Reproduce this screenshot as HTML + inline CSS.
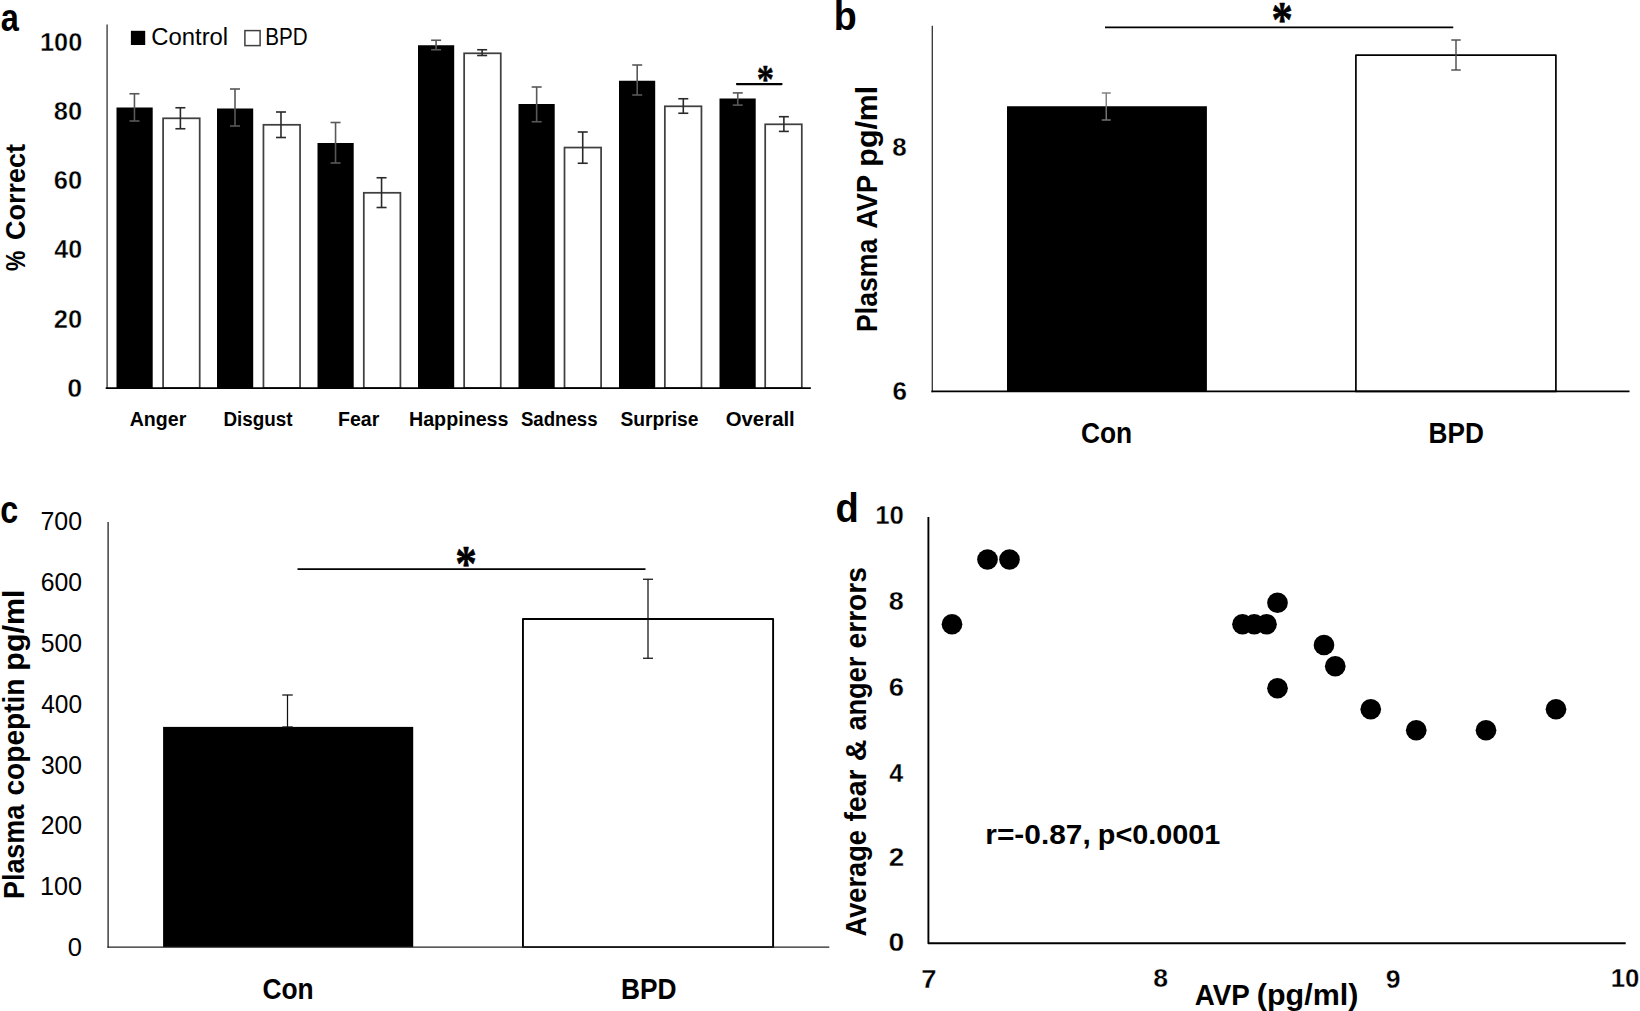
<!DOCTYPE html>
<html lang="en">
<head>
<meta charset="utf-8">
<title>Figure: emotion recognition, plasma AVP and copeptin in BPD vs control</title>
<style>
html,body{margin:0;padding:0;background:#fff;}
body{width:1640px;height:1011px;overflow:hidden;}
svg{display:block;font-family:"Liberation Sans", sans-serif;fill:#000;}
svg text{white-space:pre;}
</style>
</head>
<body>
<svg width="1640" height="1011" viewBox="0 0 1640 1011">
<rect x="0" y="0" width="1640" height="1011" fill="#fff"/>
<!-- panel a: % correct by emotion -->
<rect x="116.50" y="107.50" width="36.20" height="280.60" fill="#000"/>
<rect x="163.10" y="118.30" width="36.60" height="269.80" fill="#fff" stroke="#404040" stroke-width="1.75"/>
<rect x="217.00" y="108.50" width="36.20" height="279.60" fill="#000"/>
<rect x="263.45" y="124.80" width="36.60" height="263.30" fill="#fff" stroke="#404040" stroke-width="1.75"/>
<rect x="317.50" y="143.00" width="36.20" height="245.10" fill="#000"/>
<rect x="363.80" y="192.80" width="36.60" height="195.30" fill="#fff" stroke="#404040" stroke-width="1.75"/>
<rect x="418.00" y="45.25" width="36.20" height="342.85" fill="#000"/>
<rect x="464.15" y="53.30" width="36.60" height="334.80" fill="#fff" stroke="#404040" stroke-width="1.75"/>
<rect x="518.50" y="104.00" width="36.20" height="284.10" fill="#000"/>
<rect x="564.50" y="147.55" width="36.60" height="240.55" fill="#fff" stroke="#404040" stroke-width="1.75"/>
<rect x="619.00" y="80.75" width="36.20" height="307.35" fill="#000"/>
<rect x="664.85" y="106.30" width="36.60" height="281.80" fill="#fff" stroke="#404040" stroke-width="1.75"/>
<rect x="719.50" y="98.50" width="36.20" height="289.60" fill="#000"/>
<rect x="765.20" y="124.30" width="36.60" height="263.80" fill="#fff" stroke="#404040" stroke-width="1.75"/>
<line x1="134.45" y1="93.75" x2="134.45" y2="121.00" stroke="#585858" stroke-width="1.6"/>
<line x1="129.45" y1="93.75" x2="139.45" y2="93.75" stroke="#585858" stroke-width="1.6"/>
<line x1="129.45" y1="121.00" x2="139.45" y2="121.00" stroke="#585858" stroke-width="1.6"/>
<line x1="180.40" y1="107.75" x2="180.40" y2="128.75" stroke="#2a2a2a" stroke-width="1.6"/>
<line x1="175.40" y1="107.75" x2="185.40" y2="107.75" stroke="#2a2a2a" stroke-width="1.6"/>
<line x1="175.40" y1="128.75" x2="185.40" y2="128.75" stroke="#2a2a2a" stroke-width="1.6"/>
<line x1="235.00" y1="89.00" x2="235.00" y2="126.00" stroke="#585858" stroke-width="1.6"/>
<line x1="230.00" y1="89.00" x2="240.00" y2="89.00" stroke="#585858" stroke-width="1.6"/>
<line x1="230.00" y1="126.00" x2="240.00" y2="126.00" stroke="#585858" stroke-width="1.6"/>
<line x1="280.98" y1="112.00" x2="280.98" y2="137.50" stroke="#2a2a2a" stroke-width="1.6"/>
<line x1="275.98" y1="112.00" x2="285.98" y2="112.00" stroke="#2a2a2a" stroke-width="1.6"/>
<line x1="275.98" y1="137.50" x2="285.98" y2="137.50" stroke="#2a2a2a" stroke-width="1.6"/>
<line x1="335.55" y1="122.50" x2="335.55" y2="163.00" stroke="#585858" stroke-width="1.6"/>
<line x1="330.55" y1="122.50" x2="340.55" y2="122.50" stroke="#585858" stroke-width="1.6"/>
<line x1="330.55" y1="163.00" x2="340.55" y2="163.00" stroke="#585858" stroke-width="1.6"/>
<line x1="381.56" y1="177.75" x2="381.56" y2="207.50" stroke="#2a2a2a" stroke-width="1.6"/>
<line x1="376.56" y1="177.75" x2="386.56" y2="177.75" stroke="#2a2a2a" stroke-width="1.6"/>
<line x1="376.56" y1="207.50" x2="386.56" y2="207.50" stroke="#2a2a2a" stroke-width="1.6"/>
<line x1="436.10" y1="40.25" x2="436.10" y2="49.75" stroke="#585858" stroke-width="1.6"/>
<line x1="431.10" y1="40.25" x2="441.10" y2="40.25" stroke="#585858" stroke-width="1.6"/>
<line x1="431.10" y1="49.75" x2="441.10" y2="49.75" stroke="#585858" stroke-width="1.6"/>
<line x1="482.14" y1="49.75" x2="482.14" y2="55.50" stroke="#2a2a2a" stroke-width="1.6"/>
<line x1="477.14" y1="49.75" x2="487.14" y2="49.75" stroke="#2a2a2a" stroke-width="1.6"/>
<line x1="477.14" y1="55.50" x2="487.14" y2="55.50" stroke="#2a2a2a" stroke-width="1.6"/>
<line x1="536.65" y1="87.00" x2="536.65" y2="121.75" stroke="#585858" stroke-width="1.6"/>
<line x1="531.65" y1="87.00" x2="541.65" y2="87.00" stroke="#585858" stroke-width="1.6"/>
<line x1="531.65" y1="121.75" x2="541.65" y2="121.75" stroke="#585858" stroke-width="1.6"/>
<line x1="582.72" y1="132.00" x2="582.72" y2="163.25" stroke="#2a2a2a" stroke-width="1.6"/>
<line x1="577.72" y1="132.00" x2="587.72" y2="132.00" stroke="#2a2a2a" stroke-width="1.6"/>
<line x1="577.72" y1="163.25" x2="587.72" y2="163.25" stroke="#2a2a2a" stroke-width="1.6"/>
<line x1="637.20" y1="65.00" x2="637.20" y2="95.00" stroke="#585858" stroke-width="1.6"/>
<line x1="632.20" y1="65.00" x2="642.20" y2="65.00" stroke="#585858" stroke-width="1.6"/>
<line x1="632.20" y1="95.00" x2="642.20" y2="95.00" stroke="#585858" stroke-width="1.6"/>
<line x1="683.30" y1="98.75" x2="683.30" y2="113.25" stroke="#2a2a2a" stroke-width="1.6"/>
<line x1="678.30" y1="98.75" x2="688.30" y2="98.75" stroke="#2a2a2a" stroke-width="1.6"/>
<line x1="678.30" y1="113.25" x2="688.30" y2="113.25" stroke="#2a2a2a" stroke-width="1.6"/>
<line x1="737.75" y1="92.90" x2="737.75" y2="105.10" stroke="#585858" stroke-width="1.6"/>
<line x1="732.75" y1="92.90" x2="742.75" y2="92.90" stroke="#585858" stroke-width="1.6"/>
<line x1="732.75" y1="105.10" x2="742.75" y2="105.10" stroke="#585858" stroke-width="1.6"/>
<line x1="783.88" y1="116.70" x2="783.88" y2="131.40" stroke="#2a2a2a" stroke-width="1.6"/>
<line x1="778.88" y1="116.70" x2="788.88" y2="116.70" stroke="#2a2a2a" stroke-width="1.6"/>
<line x1="778.88" y1="131.40" x2="788.88" y2="131.40" stroke="#2a2a2a" stroke-width="1.6"/>
<line x1="107.10" y1="24.60" x2="107.10" y2="388.90" stroke="#404040" stroke-width="1.4"/>
<line x1="106.40" y1="388.1" x2="810.2" y2="388.1" stroke="#000" stroke-width="1.8" stroke-linecap="round"/>
<rect x="130.90" y="30.80" width="14.30" height="14.20" fill="#000"/>
<rect x="244.90" y="30.60" width="15.20" height="15.00" fill="#fff" stroke="#404040" stroke-width="1.5"/>
<line x1="736.9" y1="84.1" x2="781.6" y2="84.1" stroke="#000" stroke-width="2.1" stroke-linecap="round"/>
<text x="0.80" y="30.50" font-size="38.18" font-weight="700" textLength="18.10" lengthAdjust="spacingAndGlyphs">a</text>
<text x="39.95" y="50.70" font-size="25.58" font-weight="700" stroke="#fff" stroke-width="0.4" stroke-linejoin="round" textLength="42.30" lengthAdjust="spacingAndGlyphs">100</text>
<text x="53.85" y="120.11" font-size="25.58" font-weight="700" stroke="#fff" stroke-width="0.4" stroke-linejoin="round" textLength="28.40" lengthAdjust="spacingAndGlyphs">80</text>
<text x="53.85" y="189.27" font-size="25.58" font-weight="700" stroke="#fff" stroke-width="0.4" stroke-linejoin="round" textLength="28.40" lengthAdjust="spacingAndGlyphs">60</text>
<text x="54.35" y="258.43" font-size="25.58" font-weight="700" stroke="#fff" stroke-width="0.4" stroke-linejoin="round" textLength="27.90" lengthAdjust="spacingAndGlyphs">40</text>
<text x="53.85" y="327.84" font-size="25.58" font-weight="700" stroke="#fff" stroke-width="0.4" stroke-linejoin="round" textLength="28.40" lengthAdjust="spacingAndGlyphs">20</text>
<text x="67.35" y="397.00" font-size="25.58" font-weight="700" stroke="#fff" stroke-width="0.4" stroke-linejoin="round" textLength="14.90" lengthAdjust="spacingAndGlyphs">0</text>
<text x="129.70" y="425.85" font-size="20.85" font-weight="700" textLength="56.60" lengthAdjust="spacingAndGlyphs">Anger</text>
<text x="223.45" y="425.85" font-size="20.85" font-weight="700" textLength="69.10" lengthAdjust="spacingAndGlyphs">Disgust</text>
<text x="337.95" y="425.70" font-size="20.85" font-weight="700" textLength="41.30" lengthAdjust="spacingAndGlyphs">Fear</text>
<text x="408.95" y="425.85" font-size="20.85" font-weight="700" textLength="99.60" lengthAdjust="spacingAndGlyphs">Happiness</text>
<text x="520.95" y="425.90" font-size="20.85" font-weight="700" textLength="76.60" lengthAdjust="spacingAndGlyphs">Sadness</text>
<text x="620.45" y="425.85" font-size="20.85" font-weight="700" textLength="78.10" lengthAdjust="spacingAndGlyphs">Surprise</text>
<text x="725.70" y="425.90" font-size="20.85" font-weight="700" textLength="69.10" lengthAdjust="spacingAndGlyphs">Overall</text>
<text x="0" y="0" font-size="28.43" font-weight="700" textLength="20.30" lengthAdjust="spacingAndGlyphs" transform="translate(24.75 271.00) rotate(-90)">%</text>
<text x="0" y="0" font-size="28.43" font-weight="700" textLength="96.10" lengthAdjust="spacingAndGlyphs" transform="translate(24.75 240.00) rotate(-90)">Correct</text>
<text x="151.25" y="44.75" font-size="23.47" textLength="76.90" lengthAdjust="spacingAndGlyphs">Control</text>
<text x="265.35" y="44.80" font-size="23.08" textLength="42.35" lengthAdjust="spacingAndGlyphs">BPD</text>
<text x="756.75" y="92.40" font-size="39.81" font-weight="700" font-family='"Liberation Serif", serif' stroke="#000" stroke-width="0.5" stroke-linejoin="round" textLength="17.20" lengthAdjust="spacingAndGlyphs">*</text>
<!-- panel b: plasma AVP -->
<rect x="1007.00" y="106.25" width="199.90" height="285.15" fill="#000"/>
<rect x="1355.9" y="55.2" width="200" height="336.20" fill="#fff" stroke="#000" stroke-width="1.7" stroke-linejoin="round"/>
<line x1="1106.25" y1="93.00" x2="1106.25" y2="120.00" stroke="#7a7a7a" stroke-width="1.4"/>
<line x1="1101.75" y1="93.00" x2="1110.75" y2="93.00" stroke="#7a7a7a" stroke-width="1.4"/>
<line x1="1101.75" y1="120.00" x2="1110.75" y2="120.00" stroke="#7a7a7a" stroke-width="1.4"/>
<line x1="1456.00" y1="40.00" x2="1456.00" y2="70.00" stroke="#484848" stroke-width="1.4"/>
<line x1="1451.25" y1="40.00" x2="1460.75" y2="40.00" stroke="#484848" stroke-width="1.4"/>
<line x1="1451.25" y1="70.00" x2="1460.75" y2="70.00" stroke="#484848" stroke-width="1.4"/>
<line x1="932.30" y1="25.75" x2="932.30" y2="392.30" stroke="#333" stroke-width="1.3"/>
<line x1="931.40" y1="391.40" x2="1629.50" y2="391.40" stroke="#000" stroke-width="1.8"/>
<line x1="1105.00" y1="27.45" x2="1453.25" y2="27.45" stroke="#000" stroke-width="1.8"/>
<text x="833.85" y="30.20" font-size="40.14" font-weight="700" textLength="23.00" lengthAdjust="spacingAndGlyphs">b</text>
<text x="892.30" y="156.05" font-size="25.73" font-weight="700" stroke="#fff" stroke-width="0.3" stroke-linejoin="round" textLength="14.40" lengthAdjust="spacingAndGlyphs">8</text>
<text x="892.50" y="399.65" font-size="25.73" font-weight="700" stroke="#fff" stroke-width="0.3" stroke-linejoin="round" textLength="14.50" lengthAdjust="spacingAndGlyphs">6</text>
<text x="1080.90" y="442.75" font-size="29.11" font-weight="700" textLength="51.25" lengthAdjust="spacingAndGlyphs">Con</text>
<text x="1428.60" y="442.70" font-size="29.27" font-weight="700" textLength="55.25" lengthAdjust="spacingAndGlyphs">BPD</text>
<text x="0" y="0" font-size="29.02" font-weight="700" textLength="93.30" lengthAdjust="spacingAndGlyphs" transform="translate(877.30 331.95) rotate(-90)">Plasma</text>
<text x="0" y="0" font-size="29.02" font-weight="700" textLength="53.80" lengthAdjust="spacingAndGlyphs" transform="translate(877.30 228.80) rotate(-90)">AVP</text>
<text x="0" y="0" font-size="29.02" font-weight="700" textLength="80.90" lengthAdjust="spacingAndGlyphs" transform="translate(877.30 166.65) rotate(-90)">pg/ml</text>
<text x="1271.50" y="35.95" font-size="50.77" font-weight="700" font-family='"Liberation Serif", serif' stroke="#000" stroke-width="0.6" stroke-linejoin="round" textLength="21.35" lengthAdjust="spacingAndGlyphs">*</text>
<!-- panel c: plasma copeptin -->
<rect x="163.10" y="726.90" width="250.10" height="220.20" fill="#000"/>
<rect x="522.95" y="619.05" width="250.15" height="328.05" fill="#fff" stroke="#000" stroke-width="1.9" stroke-linejoin="round"/>
<line x1="287.50" y1="695.00" x2="287.50" y2="727.00" stroke="#111" stroke-width="1.25"/>
<line x1="282.25" y1="695.00" x2="292.75" y2="695.00" stroke="#111" stroke-width="1.25"/>
<line x1="282.25" y1="727.00" x2="292.75" y2="727.00" stroke="#111" stroke-width="1.25"/>
<line x1="648.00" y1="579.25" x2="648.00" y2="658.25" stroke="#111" stroke-width="1.25"/>
<line x1="643.00" y1="579.25" x2="653.00" y2="579.25" stroke="#111" stroke-width="1.25"/>
<line x1="643.00" y1="658.25" x2="653.00" y2="658.25" stroke="#111" stroke-width="1.25"/>
<line x1="108.10" y1="522.00" x2="108.10" y2="947.70" stroke="#222" stroke-width="1.3"/>
<line x1="107.45" y1="947.10" x2="829.30" y2="947.10" stroke="#222" stroke-width="1.3"/>
<line x1="297.50" y1="569.10" x2="645.50" y2="569.10" stroke="#000" stroke-width="1.9"/>
<text x="0.20" y="522.80" font-size="38.18" font-weight="700" textLength="17.95" lengthAdjust="spacingAndGlyphs">c</text>
<text x="67.80" y="955.90" font-size="25.35" textLength="14.20" lengthAdjust="spacingAndGlyphs">0</text>
<text x="39.95" y="894.97" font-size="25.35" textLength="42.05" lengthAdjust="spacingAndGlyphs">100</text>
<text x="40.70" y="834.29" font-size="25.35" textLength="41.30" lengthAdjust="spacingAndGlyphs">200</text>
<text x="40.95" y="773.61" font-size="25.35" textLength="41.05" lengthAdjust="spacingAndGlyphs">300</text>
<text x="41.20" y="712.68" font-size="25.35" textLength="40.80" lengthAdjust="spacingAndGlyphs">400</text>
<text x="40.70" y="652.00" font-size="25.35" textLength="41.30" lengthAdjust="spacingAndGlyphs">500</text>
<text x="40.70" y="591.32" font-size="25.35" textLength="41.30" lengthAdjust="spacingAndGlyphs">600</text>
<text x="40.45" y="530.39" font-size="25.35" textLength="41.55" lengthAdjust="spacingAndGlyphs">700</text>
<text x="262.40" y="998.90" font-size="29.18" font-weight="700" textLength="51.25" lengthAdjust="spacingAndGlyphs">Con</text>
<text x="620.90" y="998.70" font-size="29.27" font-weight="700" textLength="55.60" lengthAdjust="spacingAndGlyphs">BPD</text>
<text x="0" y="0" font-size="29.39" font-weight="700" textLength="94.30" lengthAdjust="spacingAndGlyphs" transform="translate(24.45 899.05) rotate(-90)">Plasma</text>
<text x="0" y="0" font-size="29.39" font-weight="700" textLength="117.15" lengthAdjust="spacingAndGlyphs" transform="translate(24.45 795.60) rotate(-90)">copeptin</text>
<text x="0" y="0" font-size="29.39" font-weight="700" textLength="81.25" lengthAdjust="spacingAndGlyphs" transform="translate(24.45 670.65) rotate(-90)">pg/ml</text>
<text x="455.35" y="579.85" font-size="50.77" font-weight="700" font-family='"Liberation Serif", serif' stroke="#000" stroke-width="0.6" stroke-linejoin="round" textLength="21.60" lengthAdjust="spacingAndGlyphs">*</text>
<!-- panel d: AVP vs average fear and anger errors -->
<circle cx="952.00" cy="624.25" r="10.35" fill="#000"/>
<circle cx="987.50" cy="559.50" r="10.35" fill="#000"/>
<circle cx="1009.50" cy="559.50" r="10.35" fill="#000"/>
<circle cx="1242.50" cy="624.25" r="10.35" fill="#000"/>
<circle cx="1254.25" cy="624.25" r="10.35" fill="#000"/>
<circle cx="1266.50" cy="624.25" r="10.35" fill="#000"/>
<circle cx="1277.50" cy="602.75" r="10.35" fill="#000"/>
<circle cx="1324.00" cy="645.00" r="10.35" fill="#000"/>
<circle cx="1335.25" cy="666.25" r="10.35" fill="#000"/>
<circle cx="1277.50" cy="688.25" r="10.35" fill="#000"/>
<circle cx="1370.75" cy="709.25" r="10.35" fill="#000"/>
<circle cx="1416.25" cy="730.25" r="10.35" fill="#000"/>
<circle cx="1486.00" cy="730.25" r="10.35" fill="#000"/>
<circle cx="1556.00" cy="709.25" r="10.35" fill="#000"/>
<polyline points="928.4,517 928.4,943.3 1625.7,943.3" fill="none" stroke="#000" stroke-width="1.9" stroke-linejoin="round"/>
<text x="835.55" y="522.35" font-size="40.14" font-weight="700" textLength="23.30" lengthAdjust="spacingAndGlyphs">d</text>
<text x="875.25" y="524.35" font-size="25.37" font-weight="700" stroke="#fff" stroke-width="0.3" stroke-linejoin="round" textLength="28.70" lengthAdjust="spacingAndGlyphs">10</text>
<text x="888.70" y="610.00" font-size="25.37" font-weight="700" stroke="#fff" stroke-width="0.3" stroke-linejoin="round" textLength="15.00" lengthAdjust="spacingAndGlyphs">8</text>
<text x="888.70" y="695.50" font-size="25.37" font-weight="700" stroke="#fff" stroke-width="0.3" stroke-linejoin="round" textLength="15.25" lengthAdjust="spacingAndGlyphs">6</text>
<text x="889.20" y="781.60" font-size="25.37" font-weight="700" stroke="#fff" stroke-width="0.3" stroke-linejoin="round" textLength="14.00" lengthAdjust="spacingAndGlyphs">4</text>
<text x="888.70" y="866.40" font-size="25.37" font-weight="700" stroke="#fff" stroke-width="0.3" stroke-linejoin="round" textLength="15.50" lengthAdjust="spacingAndGlyphs">2</text>
<text x="888.45" y="950.95" font-size="25.37" font-weight="700" stroke="#fff" stroke-width="0.3" stroke-linejoin="round" textLength="15.75" lengthAdjust="spacingAndGlyphs">0</text>
<text x="921.35" y="987.70" font-size="25.37" font-weight="700" stroke="#fff" stroke-width="0.3" stroke-linejoin="round" textLength="15.30" lengthAdjust="spacingAndGlyphs">7</text>
<text x="1153.35" y="987.45" font-size="25.37" font-weight="700" stroke="#fff" stroke-width="0.3" stroke-linejoin="round" textLength="14.80" lengthAdjust="spacingAndGlyphs">8</text>
<text x="1385.75" y="987.70" font-size="25.37" font-weight="700" stroke="#fff" stroke-width="0.3" stroke-linejoin="round" textLength="14.80" lengthAdjust="spacingAndGlyphs">9</text>
<text x="1610.75" y="987.45" font-size="25.37" font-weight="700" stroke="#fff" stroke-width="0.3" stroke-linejoin="round" textLength="28.70" lengthAdjust="spacingAndGlyphs">10</text>
<text x="985.30" y="844.35" font-size="28.43" font-weight="700" textLength="105.40" lengthAdjust="spacingAndGlyphs">r=-0.87,</text>
<text x="1097.80" y="844.35" font-size="28.43" font-weight="700" textLength="122.60" lengthAdjust="spacingAndGlyphs">p&lt;0.0001</text>
<text x="1194.75" y="1004.60" font-size="29.31" font-weight="700" textLength="55.10" lengthAdjust="spacingAndGlyphs">AVP</text>
<text x="1256.85" y="1004.60" font-size="29.31" font-weight="700" textLength="101.50" lengthAdjust="spacingAndGlyphs">(pg/ml)</text>
<text x="0" y="0" font-size="29.75" font-weight="700" textLength="106.30" lengthAdjust="spacingAndGlyphs" transform="translate(866.35 936.40) rotate(-90)">Average</text>
<text x="0" y="0" font-size="29.75" font-weight="700" textLength="52.05" lengthAdjust="spacingAndGlyphs" transform="translate(866.35 821.55) rotate(-90)">fear</text>
<text x="0" y="0" font-size="29.75" font-weight="700" textLength="21.80" lengthAdjust="spacingAndGlyphs" transform="translate(866.35 761.25) rotate(-90)">&amp;</text>
<text x="0" y="0" font-size="29.75" font-weight="700" textLength="74.00" lengthAdjust="spacingAndGlyphs" transform="translate(866.35 730.60) rotate(-90)">anger</text>
<text x="0" y="0" font-size="29.75" font-weight="700" textLength="81.45" lengthAdjust="spacingAndGlyphs" transform="translate(866.35 648.50) rotate(-90)">errors</text>
</svg>
</body>
</html>
